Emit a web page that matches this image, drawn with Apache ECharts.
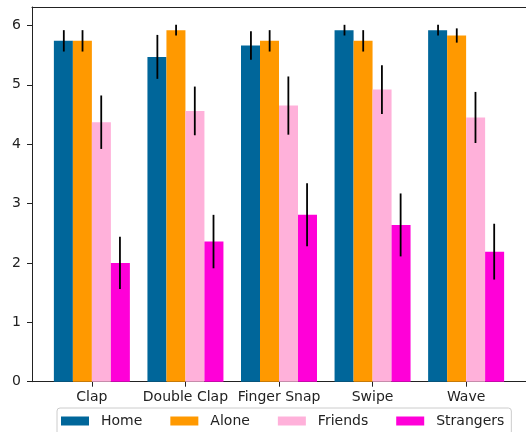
<!DOCTYPE html>
<html>
<head>
<meta charset="utf-8">
<script src="https://cdn.jsdelivr.net/npm/echarts@6/dist/echarts.min.js"></script>
<style>
html,body{margin:0;padding:0;background:#fff;}
#chart{width:526px;height:432px;}
</style>
</head>
<body>
<div id="chart"></div>
<script>
const categories = ['Clap', 'Double Clap', 'Finger Snap', 'Swipe', 'Wave'];
const seriesNames = ['Home', 'Alone', 'Friends', 'Strangers'];
const homeValues = [5.74, 5.47, 5.66, 5.92, 5.92];
const homeErrors = [0.18, 0.37, 0.24, 0.09, 0.09];
const aloneValues = [5.74, 5.92, 5.74, 5.74, 5.83];
const aloneErrors = [0.18, 0.09, 0.18, 0.18, 0.12];
const friendsValues = [4.37, 4.56, 4.65, 4.92, 4.45];
const friendsErrors = [0.45, 0.41, 0.49, 0.41, 0.43];
const strangersValues = [2.00, 2.36, 2.81, 2.64, 2.19];
const strangersErrors = [0.44, 0.45, 0.53, 0.53, 0.47];
const yTicks = [0, 1, 2, 3, 4, 5, 6];
const colors = ['#00669a', '#ff9900', '#ffb1da', '#ff00d8'];

const allValues = [homeValues, aloneValues, friendsValues, strangersValues];
const allErrors = [homeErrors, aloneErrors, friendsErrors, strangersErrors];
const xTicks = categories.map((c, i) => i);
const groupWidth = 0.8;
const barFrac = groupWidth / seriesNames.length;

const chart = echarts.init(document.getElementById('chart'));
const font = 'DejaVu Sans';
const textColor = '#222';

const barSeries = seriesNames.map((name, s) => ({
  name: name,
  type: 'bar',
  barWidth: 19,
  barGap: '0%',
  itemStyle: { color: colors[s] },
  data: allValues[s].map((v, i) => [i, v]),
  z: 2
}));

const errData = [];
allValues.forEach((vals, s) => {
  vals.forEach((v, i) => {
    errData.push([i, s, v, allErrors[s][i]]);
  });
});

const errSeries = {
  type: 'custom',
  coordinateSystem: 'cartesian2d',
  z: 5,
  silent: true,
  data: errData,
  encode: { x: 0, y: 2 },
  renderItem: function (params, api) {
    const i = api.value(0), s = api.value(1), v = api.value(2), e = api.value(3);
    const xv = i + (s - (seriesNames.length - 1) / 2) * barFrac;
    const p1 = api.coord([xv, v - e]);
    const p2 = api.coord([xv, v + e]);
    return {
      type: 'line',
      shape: { x1: p1[0], y1: p1[1], x2: p2[0], y2: p2[1] },
      style: { stroke: '#000', lineWidth: 1.8 }
    };
  }
};

chart.setOption({
  animation: false,
  backgroundColor: '#fff',
  textStyle: { fontFamily: font },
  grid: {
    left: 32, top: 7, width: 501.6, height: 374.7, show: false
  },
  xAxis: [{
    type: 'value',
    min: -0.64, max: 4.64,
    splitLine: { show: false },
    axisLine: { show: true, onZero: false, lineStyle: { color: '#222', width: 1 } },
    axisTick: { show: true, length: 5, lineStyle: { color: '#222' }, customValues: xTicks },
    axisLabel: {
      customValues: xTicks,
      formatter: v => categories[Math.round(v)],
      color: textColor, fontSize: 14, fontFamily: font, margin: 9
    }
  }, {
    type: 'value',
    position: 'top',
    min: -0.64, max: 4.64,
    splitLine: { show: false },
    axisLine: { show: true, onZero: false, lineStyle: { color: '#222', width: 1 } },
    axisTick: { show: false },
    axisLabel: { show: false }
  }],
  yAxis: {
    type: 'value',
    min: 0, max: 6.31,
    splitLine: { show: false },
    axisLine: { show: true, onZero: false, lineStyle: { color: '#222', width: 1 } },
    axisTick: { show: true, length: 5, lineStyle: { color: '#222' }, customValues: yTicks },
    axisLabel: {
      customValues: yTicks,
      color: textColor, fontSize: 14, fontFamily: font, margin: 11
    }
  },
  legend: {
    data: seriesNames,
    left: 57, top: 408,
    orient: 'horizontal',
    icon: 'rect',
    itemWidth: 28, itemHeight: 9, itemGap: 28,
    padding: [6, 7, 14, 4],
    borderColor: '#cccccc', borderWidth: 1, borderRadius: 3,
    backgroundColor: '#fff',
    textStyle: { color: textColor, fontSize: 14, fontFamily: font, padding: [0, 0, 0, 7] }
  },
  series: barSeries.concat([errSeries])
});
</script>
</body>
</html>
